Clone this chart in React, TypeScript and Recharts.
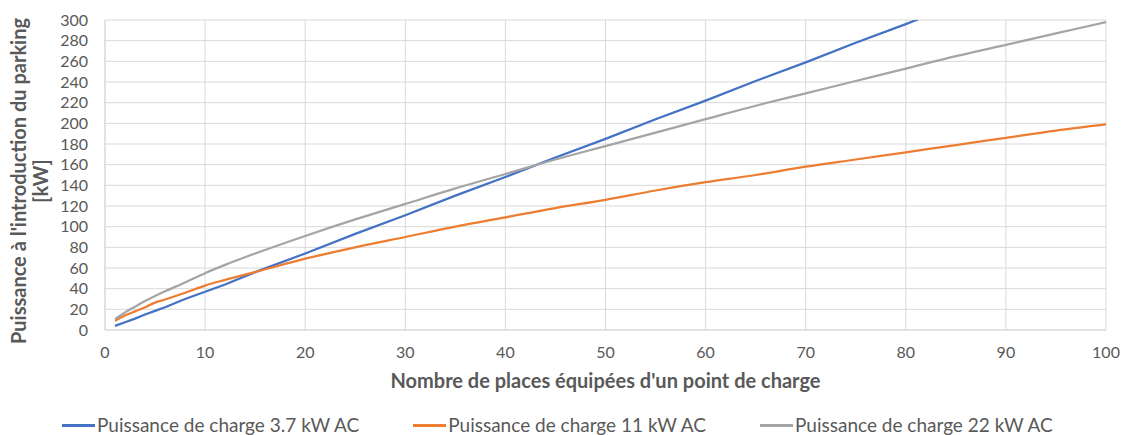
import { CartesianGrid, Label, Legend, Line, LineChart, XAxis, YAxis } from 'recharts'

const places = [1, 2, 3, 4, 5, 6, 8, 10, 12, 15, 20, 25, 30, 35, 40, 45, 50, 55, 60, 65, 70, 75, 80, 85, 90, 95, 100]
const charge37 = [4, 7.5, 11, 15, 18.5, 22, 30, 37, 44, 56, 74, 93, 111, 130, 148, 167, 185, 204, 222, 241, 259, 278, 296, 315, null, null, null]
const charge11 = [9, 14, 18, 22, 26.5, 29.5, 36, 43, 48.5, 56, 69, 80, 90, 100, 109, 118, 126, 135, 143, 150, 158, 165, 172, 179, 186, 193, 199]
const charge22 = [10.5, 17, 22.5, 28, 33, 37.5, 46, 55, 63, 74, 91, 107, 122, 137, 151, 165, 178, 191, 204, 217, 229, 241, 253, 265, 276, 287, 298]

const xTicks = [0, 10, 20, 30, 40, 50, 60, 70, 80, 90, 100]
const yTicks = [0, 20, 40, 60, 80, 100, 120, 140, 160, 180, 200, 220, 240, 260, 280, 300]

const series = [
  { key: 'p37', name: 'Puissance de charge 3.7 kW AC', color: '#4472C4', type: 'linear' as const },
  { key: 'p11', name: 'Puissance de charge 11 kW AC', color: '#ED7D31', type: 'monotone' as const },
  { key: 'p22', name: 'Puissance de charge 22 kW AC', color: '#A5A5A5', type: 'monotone' as const },
]

const data = places.map((n, i) => ({ n, p37: charge37[i], p11: charge11[i], p22: charge22[i] }))

const FONT = 'Lato, "Open Sans", sans-serif'
const TEXT = '#595959'

function YTitle() {
  const cy = 181
  const style = { fontFamily: FONT, fontWeight: 700, fontSize: 20, fill: TEXT }
  return (
    <g>
      <text x={18} y={cy} transform={`rotate(-90 18 ${cy})`} textAnchor="middle" dominantBaseline="central" style={style}>
        Puissance à l'introduction du parking
      </text>
      <text x={40} y={cy} transform={`rotate(-90 40 ${cy})`} textAnchor="middle" dominantBaseline="central" style={style}>
        [kW]
      </text>
    </g>
  )
}

function LegendRow() {
  return (
    <div style={{ display: 'flex', paddingLeft: 17, paddingTop: 24, gap: 54, fontFamily: FONT, fontSize: 19, color: TEXT, lineHeight: '22px' }}>
      {series.map((s) => (
        <div key={s.key} style={{ display: 'flex', alignItems: 'center' }}>
          <span style={{ display: 'inline-block', width: 33, height: 3, background: s.color, marginRight: 2 }} />
          <span>{s.name}</span>
        </div>
      ))}
    </div>
  )
}

export default function App() {
  return (
    <div style={{ position: 'absolute', left: 0, top: 0, width: 1126, height: 435, background: '#fff' }}>
      <LineChart width={1126} height={435} data={data} margin={{ top: 20, right: 20, left: 45, bottom: 5 }}>
        <CartesianGrid stroke="#D9D9D9" strokeWidth={1} />
        <XAxis
          dataKey="n"
          type="number"
          domain={[0, 100]}
          ticks={xTicks}
          interval={0}
          height={60}
          axisLine={{ stroke: '#D9D9D9' }}
          tickLine={false}
          tickMargin={11}
          tick={{ fill: TEXT, fontSize: 16, fontFamily: FONT }}
        >
          <Label
            value="Nombre de places équipées d'un point de charge"
            position="insideBottom"
            offset={2}
            style={{ fontFamily: FONT, fontWeight: 700, fontSize: 20, fill: TEXT }}
          />
        </XAxis>
        <YAxis
          type="number"
          domain={[0, 300]}
          ticks={yTicks}
          interval={0}
          allowDataOverflow
          width={60}
          axisLine={{ stroke: '#D9D9D9' }}
          tickLine={false}
          tickMargin={11}
          tick={{ fill: TEXT, fontSize: 16, fontFamily: FONT }}
        >
          <Label content={<YTitle />} />
        </YAxis>
        <Legend verticalAlign="bottom" height={40} content={<LegendRow />} />
        {series.map((s) => (
          <Line
            key={s.key}
            dataKey={s.key}
            name={s.name}
            type={s.type}
            stroke={s.color}
            strokeWidth={2.25}
            dot={false}
            activeDot={false}
            isAnimationActive={false}
          />
        ))}
      </LineChart>
    </div>
  )
}
